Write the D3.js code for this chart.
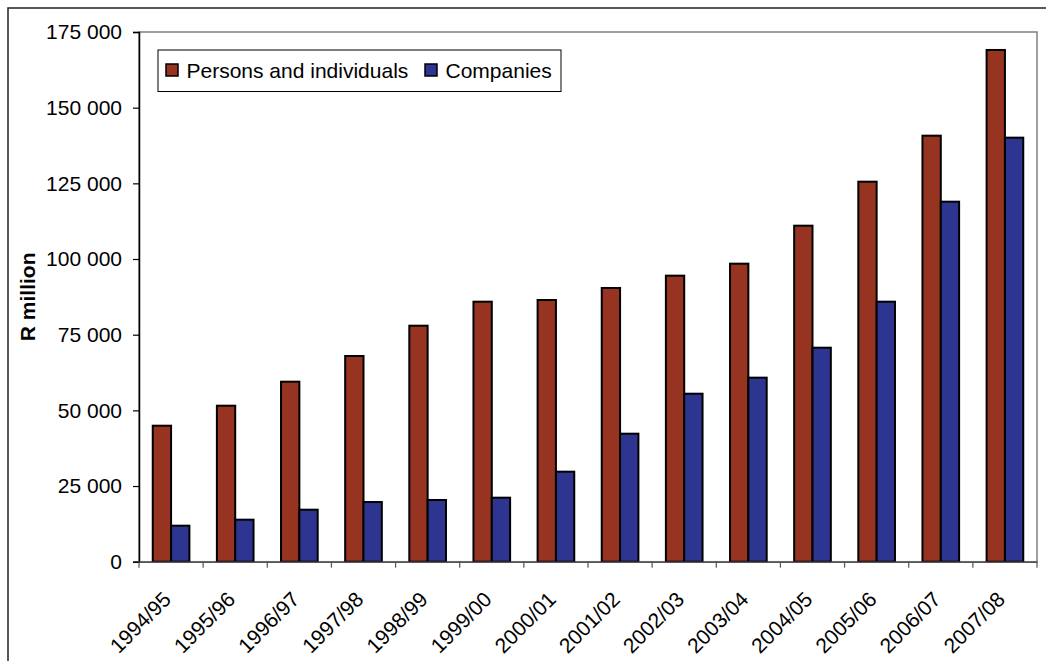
<!DOCTYPE html>
<html>
<head>
<meta charset="utf-8">
<script src="https://cdn.jsdelivr.net/npm/d3@7"></script>
<style>
  html, body { margin: 0; padding: 0; background: #fff; }
  svg { display: block; }
  text { font-family: "Liberation Sans", Arial, sans-serif; }
</style>
</head>
<body>
<svg id="chart" width="1046" height="661"></svg>
<script>
const categories = ["1994/95","1995/96","1996/97","1997/98","1998/99","1999/00","2000/01","2001/02","2002/03","2003/04","2004/05","2005/06","2006/07","2007/08"];
const persons   = [44930, 51540, 59470, 67960, 77970, 85900, 86460, 90430, 94500, 98460, 111010, 125550, 140750, 169060];
const companies = [11900, 13880, 17180, 19720, 20390, 21150, 29740, 42290, 55500, 60800, 70700, 85900, 118940, 140090];
const seriesNames = ["Persons and individuals", "Companies"];
const seriesColors = ["#963421", "#2e3591"];
const yTicks = [0, 25000, 50000, 75000, 100000, 125000, 150000, 175000];
const yTitle = "R million";

const svg = d3.select("#chart");
const W = 1046, H = 661;
const plot = { left: 139, right: 1037, top: 32, bottom: 561.7 };
const FS = 21;

// outer frame
svg.append("rect").attr("x", 8).attr("y", 8).attr("width", W + 10).attr("height", H + 10)
  .attr("fill", "#fff").attr("stroke", "#222").attr("stroke-width", 1.5);

const x = d3.scaleBand().domain(categories).range([plot.left, plot.right]).paddingInner(0).paddingOuter(0);
const inner = d3.scaleBand().domain([0, 1]).range([0, x.bandwidth()]).paddingInner(0).paddingOuter(0.75);
const y = d3.scaleLinear().domain([0, 175000]).range([plot.bottom, plot.top]);

// plot area border (gray)
svg.append("rect").attr("x", plot.left).attr("y", plot.top)
  .attr("width", plot.right - plot.left).attr("height", plot.bottom - plot.top)
  .attr("fill", "#fff").attr("stroke", "#808080").attr("stroke-width", 1.5);

// bars
const data = categories.map((c, i) => ({ c, vals: [persons[i], companies[i]] }));
const groups = svg.append("g").selectAll("g").data(data).join("g")
  .attr("transform", d => `translate(${x(d.c)},0)`);
groups.selectAll("rect").data(d => d.vals.map((v, k) => ({ v, k }))).join("rect")
  .attr("x", d => inner(d.k))
  .attr("width", inner.bandwidth())
  .attr("y", d => y(d.v))
  .attr("height", d => y(0) - y(d.v))
  .attr("fill", d => seriesColors[d.k])
  .attr("stroke", "#000").attr("stroke-width", 2);

// y axis
const loc = d3.formatLocale({ decimal: ".", thousands: " ", grouping: [3], currency: ["", ""] });
const fmt = loc.format(",d");
const yAxis = svg.append("g").attr("transform", `translate(${plot.left},0)`)
  .call(d3.axisLeft(y).tickValues(yTicks).tickFormat(fmt).tickSize(6).tickPadding(11));
yAxis.select(".domain").attr("stroke", "#000").attr("stroke-width", 1.5);
yAxis.selectAll(".tick line").attr("stroke", "#000").attr("stroke-width", 1.2);
yAxis.selectAll(".tick text").attr("font-size", FS).attr("fill", "#000")
  .attr("font-family", "Liberation Sans, Arial, sans-serif");

// x axis
const xAxis = svg.append("g").attr("transform", `translate(0,${plot.bottom})`)
  .call(d3.axisBottom(x).tickSize(0).tickFormat(""));
xAxis.select(".domain").attr("stroke", "#555").attr("stroke-width", 1.5);
// ticks at category boundaries
const bounds = categories.map(c => x(c)).concat([plot.right]);
svg.append("g").selectAll("line").data(bounds).join("line")
  .attr("x1", d => d).attr("x2", d => d)
  .attr("y1", plot.bottom).attr("y2", plot.bottom + 6)
  .attr("stroke", "#555").attr("stroke-width", 1.2);
// rotated labels
svg.append("g").selectAll("text").data(categories).join("text")
  .attr("transform", c => `translate(${x(c) + x.bandwidth() / 2 + 1.3},${plot.bottom + 39}) rotate(-45)`)
  .attr("text-anchor", "end")
  .attr("font-size", FS)
  .attr("fill", "#000")
  .text(c => c);

// y title
svg.append("text")
  .attr("transform", `translate(35,${(plot.top + plot.bottom) / 2}) rotate(-90)`)
  .attr("text-anchor", "middle")
  .attr("font-size", FS).attr("font-weight", "bold").attr("fill", "#000")
  .text(yTitle);

// legend
const lg = svg.append("g");
lg.append("rect").attr("x", 158).attr("y", 50).attr("width", 403).attr("height", 41.5)
  .attr("fill", "#fff").attr("stroke", "#000").attr("stroke-width", 1);
const legendX = [166, 425];
seriesNames.forEach((n, k) => {
  lg.append("rect").attr("x", legendX[k]).attr("y", 64).attr("width", 12).attr("height", 12)
    .attr("fill", seriesColors[k]).attr("stroke", "#000").attr("stroke-width", 1.5);
  lg.append("text").attr("x", legendX[k] + 20.5).attr("y", 77.5)
    .attr("font-size", FS).attr("fill", "#000").text(n);
});
</script>
</body>
</html>
